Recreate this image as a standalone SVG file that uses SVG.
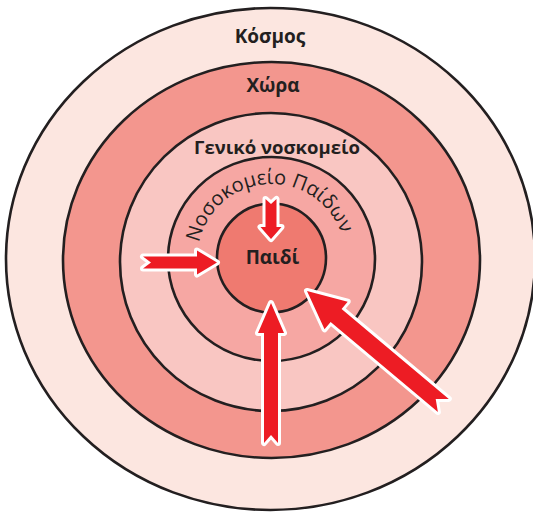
<svg xmlns="http://www.w3.org/2000/svg" width="533" height="512" viewBox="0 0 533 512">
  <style>
    .ring { stroke: #231f20; stroke-width: 2.6; }
    .lbl { font-family: "Open Sans", "Noto Sans", "DejaVu Sans", sans-serif; font-weight: 700; fill: #231f20; text-anchor: middle; }
    .arc { font-family: "Open Sans", "Noto Sans", "DejaVu Sans", sans-serif; font-weight: 400; fill: #231f20; }
    .arrow { fill: #ed1c24; stroke: #ffffff; stroke-width: 6; stroke-linejoin: round; paint-order: stroke; }
  </style>
  <defs>
    <path id="arcPath" d="M 197.5 258 A 74 74 0 0 1 345.5 258"/>
  </defs>
  <rect width="533" height="512" fill="#ffffff"/>
  <g id="world">
    <ellipse class="ring" cx="270.5" cy="259" rx="264.5" ry="251" fill="#fce6e0"/>
    <text class="lbl" x="270" y="43" font-size="19">Κόσμος</text>
  </g>
  <g id="country">
    <ellipse class="ring" cx="271.5" cy="260" rx="208.5" ry="198" fill="#f3968e"/>
    <text class="lbl" x="273" y="92" font-size="19">Χώρα</text>
  </g>
  <g id="general-hospital">
    <ellipse class="ring" cx="271" cy="262" rx="151" ry="149" fill="#f9c6c2"/>
    <text class="lbl" x="277" y="154" font-size="18.5">Γενικό νοσκομείο</text>
  </g>
  <g id="childrens-hospital">
    <ellipse class="ring" cx="271.5" cy="259" rx="103.5" ry="102" fill="#f6a7a3"/>
    <text class="arc" font-size="20"><textPath href="#arcPath" startOffset="48%" text-anchor="middle">Νοσοκομείο Παίδων</textPath></text>
  </g>
  <g id="child">
    <circle class="ring" cx="271.5" cy="258" r="54.5" fill="#ef7a70"/>
    <text class="lbl" x="272.5" y="264" font-size="19">Παιδί</text>
  </g>
  <g id="connectors">
    <polygon class="arrow" transform="translate(217 262.5)" points="-74,-6 -20,-6 -20,-12 0,0 -20,12 -20,6 -74,6 -66,0"/>
    <polygon class="arrow" transform="translate(271 239) rotate(90)" points="-40,-5.5 -12,-5.5 -12,-10.5 0,0 -12,10.5 -12,5.5 -40,5.5 -35,0"/>
    <polygon class="arrow" transform="translate(271 303) rotate(-90)" points="-140,-7 -30,-7 -30,-13 0,0 -30,13 -30,7 -140,7 -132,0"/>
    <polygon class="arrow" transform="translate(307 291) rotate(220)" points="-178,-8.5 -38,-8.5 -38,-18 0,0 -38,18 -38,8.5 -178,8.5 -168,0"/>
  </g>
</svg>
